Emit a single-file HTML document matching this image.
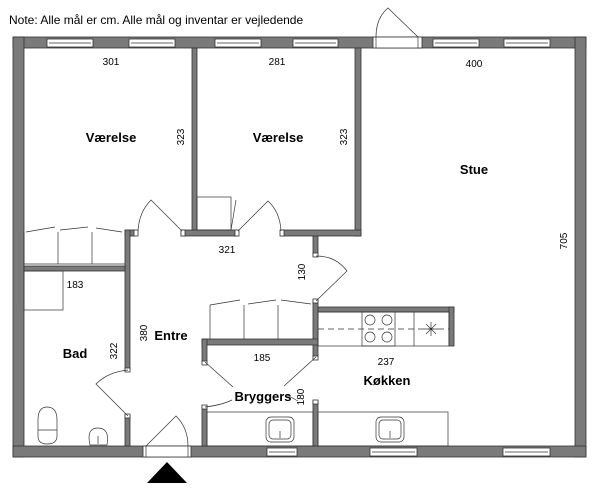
<!DOCTYPE html>
<html><head><meta charset="utf-8"><style>
html,body{margin:0;padding:0;background:#fff;}
svg{display:block;}
text{font-family:"Liberation Sans","DejaVu Sans",sans-serif;fill:#000;}
.b{font-weight:bold;font-size:13px;}
.d{font-size:10px;}
</style></head><body>
<svg width="600" height="491" viewBox="0 0 600 491" xmlns="http://www.w3.org/2000/svg">
<text x="9" y="24" font-size="12">Note: Alle mål er cm. Alle mål og inventar er vejledende</text>
<g fill="#7a7a7a" stroke="#333" stroke-width="0.8">
<rect x="13" y="37" width="573" height="11"/>
<rect x="13" y="37" width="11" height="420"/>
<rect x="575" y="37" width="11" height="420"/>
<rect x="13" y="446" width="573" height="11"/>
<rect x="192" y="48" width="5" height="184"/>
<rect x="355" y="48" width="6" height="188"/>
<rect x="181" y="230" width="56" height="6"/>
<rect x="281" y="230" width="80" height="6"/>
<rect x="125" y="230" width="10" height="6"/>
<rect x="125" y="230" width="5" height="140"/>
<rect x="125" y="415" width="5" height="31"/>
<rect x="24" y="266" width="101" height="5"/>
<rect x="313" y="236" width="5" height="19"/>
<rect x="313" y="300" width="5" height="57"/>
<rect x="318" y="307" width="136" height="5"/>
<rect x="449" y="307" width="5" height="39"/>
<rect x="202" y="339" width="116" height="6"/>
<rect x="202" y="339" width="5" height="23"/>
<rect x="202" y="406" width="5" height="40"/>
<rect x="313" y="401" width="5" height="45"/>
</g>
<g fill="#fff" stroke="#333" stroke-width="0.8">
<rect x="134" y="230" width="4" height="6"/><rect x="181" y="230" width="4" height="6"/>
<rect x="235" y="230" width="4" height="6"/><rect x="280" y="230" width="4" height="6"/>
<rect x="313" y="253" width="5" height="4"/><rect x="313" y="299" width="5" height="4"/>
<rect x="125" y="368" width="5" height="4"/><rect x="125" y="414" width="5" height="4"/>
<rect x="202" y="361" width="5" height="4"/><rect x="313" y="356" width="5" height="4"/>
<rect x="202" y="405" width="5" height="4"/><rect x="313" y="400" width="5" height="4"/>
</g>
<g fill="#fff" stroke="#333" stroke-width="0.8">
<rect x="47" y="39" width="46" height="8"/><rect x="129" y="39" width="46" height="8"/>
<rect x="215" y="39" width="46" height="8"/><rect x="293" y="39" width="45" height="8"/>
<rect x="433" y="39" width="46" height="8"/><rect x="504" y="39" width="46" height="8"/>
<rect x="267" y="448" width="30" height="8"/><rect x="370" y="448" width="47" height="8"/><rect x="503" y="448" width="47" height="8"/>
<rect x="373" y="37" width="49" height="11"/><rect x="143" y="446" width="48" height="11"/>
</g>
<g fill="none" stroke="#333" stroke-width="0.7">
<line x1="49" y1="43" x2="91" y2="43"/><line x1="131" y1="43" x2="173" y2="43"/>
<line x1="217" y1="43" x2="259" y2="43"/><line x1="295" y1="43" x2="336" y2="43"/>
<line x1="435" y1="43" x2="477" y2="43"/><line x1="506" y1="43" x2="548" y2="43"/>
<line x1="269" y1="452" x2="295" y2="452"/><line x1="372" y1="452" x2="415" y2="452"/><line x1="505" y1="452" x2="548" y2="452"/>
<line x1="376" y1="37" x2="376" y2="48"/><line x1="418" y1="37" x2="418" y2="48"/>
<line x1="146" y1="446" x2="146" y2="457"/><line x1="188" y1="446" x2="188" y2="457"/>
<path d="M418 37 L388 8 Q376 18 376 37"/>
<path d="M146 446 L176 416 Q188 428 188 446"/>
<path d="M182 231 L151 200 Q139 212 138 231"/>
<path d="M238 231 L268 201 Q280 212 281 231"/>
<path d="M316 301 L347 271 Q336 256 316 256"/>
<path d="M128 416 L96 384 Q108 372 128 370"/>
<path d="M205 362 L233 387"/><path d="M316 357 L284 386"/>
<path d="M205 407 Q222 405 232 400"/><path d="M287 395 L298 401"/>
<path d="M24 264 L24 232 M24 264 L125 264 M58 232 L58 264 M92 232 L92 264 M26 232 L55 227 M60 230 L88 227 M96 228 L122 232"/>
<path d="M210 339 L210 305 M244 305 L244 339 M278 305 L278 339 M210 305 L240 300 M248 304 L276 300 M281 300 L311 304"/>
<rect x="197" y="197" width="34" height="33"/><line x1="231" y1="230" x2="236" y2="200"/>
<rect x="24" y="271" width="39" height="39"/>
<rect x="318" y="312" width="131" height="34"/>
<rect x="362" y="312" width="33" height="34"/>
<line x1="414" y1="312" x2="414" y2="346"/>
<line x1="318" y1="329" x2="449" y2="329" stroke-dasharray="6,4"/>
<circle cx="370" cy="320" r="5"/><circle cx="387" cy="320" r="5"/><circle cx="370" cy="337" r="5"/><circle cx="387" cy="337" r="5"/>
<path d="M424 329 H438 M431 322 V336 M426 324 L436 334 M436 324 L426 334"/>
<rect x="207" y="412" width="106" height="34"/>
<rect x="318" y="412" width="130" height="34"/>
<rect x="266" y="417" width="28" height="25" rx="5"/><rect x="269" y="420" width="22" height="19" rx="4"/>
<rect x="376" y="417" width="28" height="25" rx="5"/><rect x="379" y="420" width="22" height="19" rx="4"/>
<path d="M280 438 V431 M390 438 V431"/>
<path d="M38 420 Q38 407 47 407 Q57 407 57 420 L57 436 Q57 444 47 444 Q38 444 38 436 Z"/>
<line x1="38" y1="430" x2="57" y2="430"/>
<path d="M90 445 Q86 428 98 428 Q110 428 107 445 Z"/>
<path d="M98 436 V444"/>
</g>
<polygon points="147,483 167,462 187,483" fill="#000"/>
<text class="b" x="111" y="142" text-anchor="middle">Værelse</text>
<text class="b" x="278" y="142" text-anchor="middle">Værelse</text>
<text class="b" x="474" y="174" text-anchor="middle">Stue</text>
<text class="b" x="171" y="340" text-anchor="middle">Entre</text>
<text class="b" x="75" y="358" text-anchor="middle">Bad</text>
<text class="b" x="387" y="385" text-anchor="middle">Køkken</text>
<text class="b" x="263" y="401" text-anchor="middle">Bryggers</text>
<text class="d" x="111" y="65" text-anchor="middle">301</text>
<text class="d" x="277" y="65" text-anchor="middle">281</text>
<text class="d" x="474" y="67" text-anchor="middle">400</text>
<text class="d" x="227" y="253" text-anchor="middle">321</text>
<text class="d" x="75" y="288" text-anchor="middle">183</text>
<text class="d" x="262" y="361" text-anchor="middle">185</text>
<text class="d" x="386" y="365" text-anchor="middle">237</text>
<text class="d" transform="translate(184,137) rotate(-90)" text-anchor="middle">323</text>
<text class="d" transform="translate(347,137) rotate(-90)" text-anchor="middle">323</text>
<text class="d" transform="translate(567,241) rotate(-90)" text-anchor="middle">705</text>
<text class="d" transform="translate(305,272) rotate(-90)" text-anchor="middle">130</text>
<text class="d" transform="translate(147,333) rotate(-90)" text-anchor="middle">380</text>
<text class="d" transform="translate(117,351) rotate(-90)" text-anchor="middle">322</text>
<text class="d" transform="translate(304,397) rotate(-90)" text-anchor="middle">180</text>
</svg>
</body></html>
